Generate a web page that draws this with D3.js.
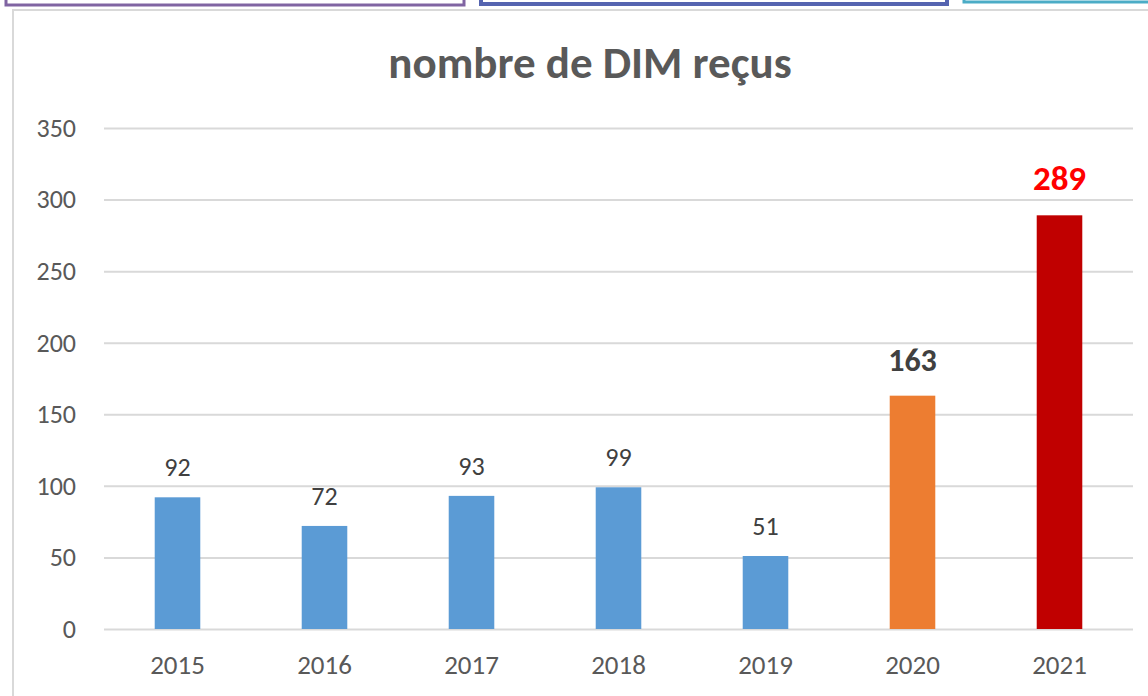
<!DOCTYPE html>
<html lang="fr">
<head>
<meta charset="UTF-8">
<title>nombre de DIM reçus</title>
<script src="https://d3js.org/d3.v7.min.js"></script>
<style>
  body { margin: 0; background: #fff; }
  svg { display: block; font-family: Carlito, Lato, sans-serif; }
</style>
</head>
<body>
<svg id="chart" width="1148" height="696"></svg>
<script>
// data
const years = ["2015", "2016", "2017", "2018", "2019", "2020", "2021"];
const counts = [92, 72, 93, 99, 51, 163, 289];
const barColors = ["#5b9bd5", "#5b9bd5", "#5b9bd5", "#5b9bd5", "#5b9bd5", "#ed7d31", "#c00000"];
const yTicks = [0, 50, 100, 150, 200, 250, 300, 350];

const svg = d3.select("#chart");

// decorative boxes at the top (cut-off shapes from the slide)
svg.append("rect").attr("x", 6).attr("y", -20).attr("width", 458).attr("height", 25)
  .attr("fill", "#fff").attr("stroke", "#8064a2").attr("stroke-width", 3);
svg.append("rect").attr("x", 481).attr("y", -20).attr("width", 466).attr("height", 24)
  .attr("fill", "#fff").attr("stroke", "#5564b0").attr("stroke-width", 4);
svg.append("rect").attr("x", 964).attr("y", -20).attr("width", 200).attr("height", 22)
  .attr("fill", "#fff").attr("stroke", "#4bacc6").attr("stroke-width", 3);

// chart frame
svg.append("path").attr("d", "M13,696 V10 H1148")
  .attr("fill", "none").attr("stroke", "#d9d9d9").attr("stroke-width", 2);

const x = d3.scaleBand().domain(years).range([104, 1133]).paddingInner(0.69).paddingOuter(0.345);
const y = d3.scaleLinear().domain([0, 350]).range([629, 128]);

// title
svg.append("text").attr("x", 590).attr("y", 78).attr("text-anchor", "middle")
  .attr("fill", "#595959").attr("font-size", 45).attr("font-weight", "bold")
  .text("nombre de DIM reçus");

// gridlines + y labels
const yAxis = d3.axisLeft(y).tickValues(yTicks).tickSize(-(1133 - 104)).tickPadding(28);
const gy = svg.append("g").attr("transform", "translate(104,0)").call(yAxis);
gy.select(".domain").remove();
gy.selectAll(".tick line").attr("stroke", "#d9d9d9").attr("stroke-width", 2);
gy.selectAll(".tick text").attr("fill", "#595959").attr("font-size", 26)
  .attr("font-family", "Carlito, Lato, sans-serif");

// x labels
const xAxis = d3.axisBottom(x).tickSize(0).tickPadding(26);
const gx = svg.append("g").attr("transform", "translate(0,629)").call(xAxis);
gx.select(".domain").remove();
gx.selectAll(".tick text").attr("fill", "#595959").attr("font-size", 27)
  .attr("font-family", "Carlito, Lato, sans-serif");

// bars
const rows = years.map((yr, i) => ({ year: yr, value: counts[i], color: barColors[i], i }));
svg.append("g").selectAll("rect").data(rows).join("rect")
  .attr("x", d => x(d.year))
  .attr("y", d => y(d.value))
  .attr("width", x.bandwidth())
  .attr("height", d => y(0) - y(d.value))
  .attr("fill", d => d.color);

// data labels
svg.append("g").selectAll("text").data(rows).join("text")
  .attr("x", d => x(d.year) + x.bandwidth() / 2)
  .attr("y", d => y(d.value) - (d.i >= 5 ? 25 : 21))
  .attr("text-anchor", "middle")
  .attr("font-size", d => d.i === 6 ? 35 : d.i === 5 ? 32 : 26)
  .attr("font-weight", d => d.i >= 5 ? "bold" : "normal")
  .attr("fill", d => d.i === 6 ? "#ff0000" : "#404040")
  .text(d => d.value);
</script>
</body>
</html>
